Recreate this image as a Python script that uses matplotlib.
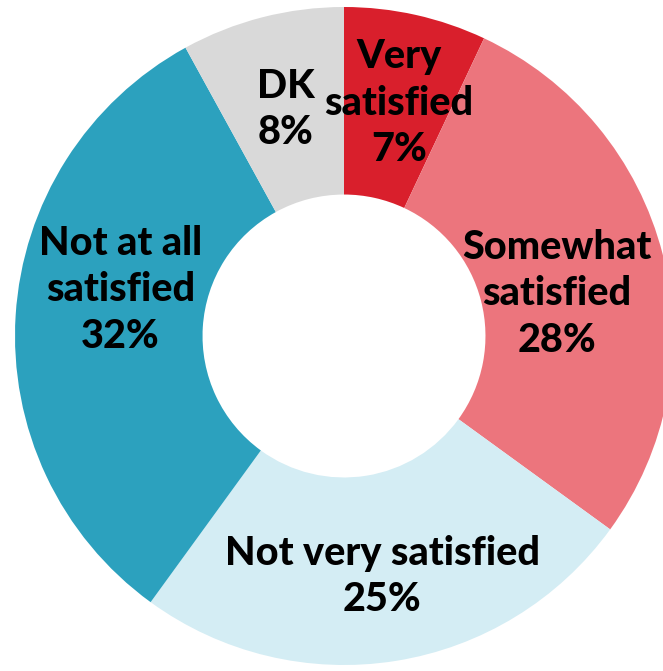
import numpy as np
import matplotlib
matplotlib.use("Agg")
import matplotlib.pyplot as plt

categories = ["Very\nsatisfied", "Somewhat\nsatisfied", "Not very satisfied", "Not at all\nsatisfied", "DK"]
values = [7, 28, 25, 32, 8]
colors = ["#D91F2C", "#EC757D", "#D4EDF4", "#2CA1BE", "#D9D9D9"]
# label placement (data units, pie radius = 1)
label_pos = [(0.167, 0.707), (0.648, 0.128), (0.116, -0.731), (-0.679, 0.141), (-0.177, 0.688)]

W, H = 663, 671
fig = plt.figure(figsize=(W / 100, H / 100), dpi=100)
ax = fig.add_axes([0, 0, 1, 1])
R = 329.0
cx, cy = 344.0, 336.0  # pixel center from top-left
wedges, _ = ax.pie(values, colors=colors, startangle=90, counterclock=False,
                   radius=1.0, wedgeprops=dict(width=0.57, linewidth=0))
ax.set_xlim(-cx / R, (W - cx) / R)
ax.set_ylim(-(H - cy) / R, cy / R)
ax.set_aspect("equal")
ax.axis("off")

for cat, v, (x, y) in zip(categories, values, label_pos):
    ax.text(x, y, f"{cat}\n{v}%", ha="center", va="center", fontsize=28.5,
            fontweight="black", family=["Lato", "DejaVu Sans"], linespacing=1.32,
            color="black")

fig.savefig("out.png", dpi=100)
